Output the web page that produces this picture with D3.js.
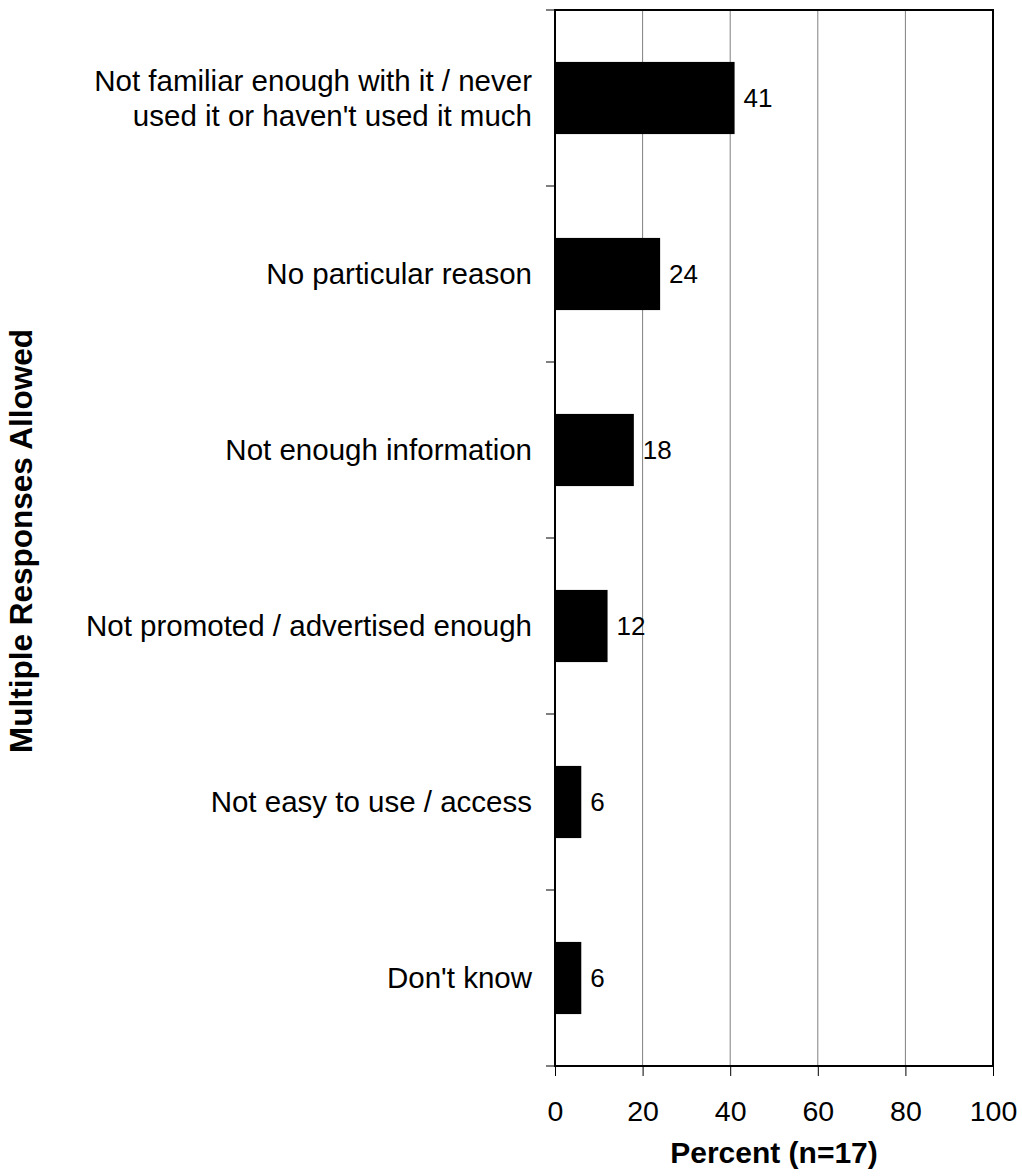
<!DOCTYPE html>
<html><head><meta charset="utf-8">
<script src="https://cdn.jsdelivr.net/npm/d3@7"></script>
<style>body{margin:0;background:#fff}svg{display:block}text{font-family:"Liberation Sans",Arial,sans-serif}</style>
</head><body>
<script>
const categories = [
  ["Not familiar enough with it / never", "used it or haven't used it much"],
  ["No particular reason"],
  ["Not enough information"],
  ["Not promoted / advertised enough"],
  ["Not easy to use / access"],
  ["Don't know"]
];
const values = [41, 24, 18, 12, 6, 6];
const xTicks = [0, 20, 40, 60, 80, 100];
const xTitle = "Percent (n=17)";
const yTitle = "Multiple Responses Allowed";

const W = 1022, H = 1176;
const L = 555, R = 993, T = 10, B = 1066;
const svg = d3.select("body").append("svg").attr("width", W).attr("height", H);

const x = d3.scaleLinear().domain([0, 100]).range([L, R]);
const idx = categories.map((d, i) => i);
const y = d3.scaleBand().domain(idx).range([T, B]).paddingInner(0.59).paddingOuter(0.295);

// gridlines
svg.append("g").selectAll("line").data(xTicks.filter(t => t > 0 && t < 100)).join("line")
  .attr("x1", d => x(d)).attr("x2", d => x(d)).attr("y1", T).attr("y2", B)
  .attr("stroke", "#808080").attr("stroke-width", 1);

// bars
svg.append("g").selectAll("rect").data(values).join("rect")
  .attr("x", x(0)).attr("y", (d, i) => y(i))
  .attr("width", d => x(d) - x(0)).attr("height", y.bandwidth())
  .attr("fill", "#000");

// frame
svg.append("rect").attr("x", L).attr("y", T).attr("width", R - L).attr("height", B - T)
  .attr("fill", "none").attr("stroke", "#000").attr("stroke-width", 2);

// y ticks (band boundaries)
const yBounds = d3.range(categories.length + 1).map(i => T + i * y.step());
svg.append("g").selectAll("line").data(yBounds).join("line")
  .attr("x1", L - 9).attr("x2", L).attr("y1", d => d).attr("y2", d => d)
  .attr("stroke", "#000").attr("stroke-width", 1);

// x axis
const xAxis = d3.axisBottom(x).tickValues(xTicks).tickSize(10).tickPadding(25);
const gx = svg.append("g").attr("transform", `translate(0,${B})`).call(xAxis);
gx.select(".domain").remove();
gx.selectAll("line").attr("stroke", "#000");
gx.selectAll("text").attr("font-size", 28.5).attr("fill", "#000")
  .attr("font-family", '"Liberation Sans",Arial,sans-serif');

// value labels
svg.append("g").selectAll("text").data(values).join("text")
  .attr("x", d => x(d) + 9).attr("y", (d, i) => y(i) + y.bandwidth() / 2)
  .attr("dy", "0.35em").attr("font-size", 26).text(d => d);

// category labels
const cat = svg.append("g").selectAll("text").data(categories).join("text")
  .attr("text-anchor", "end").attr("font-size", 29.5)
  .attr("y", (d, i) => y(i) + y.bandwidth() / 2);
cat.each(function(lines) {
  const t = d3.select(this);
  const n = lines.length;
  lines.forEach((ln, j) => {
    t.append("tspan").attr("x", 532)
      .attr("dy", j === 0 ? `${0.35 - (n - 1) * 0.6}em` : "1.2em").text(ln);
  });
});

// axis titles
svg.append("text").attr("x", (L + R) / 2).attr("y", 1163).attr("text-anchor", "middle")
  .attr("font-size", 30).attr("font-weight", "bold").text(xTitle);
svg.append("text").attr("transform", `translate(32,541) rotate(-90)`)
  .attr("text-anchor", "middle").attr("font-size", 31.5).attr("font-weight", "bold").text(yTitle);
</script>
</body></html>
